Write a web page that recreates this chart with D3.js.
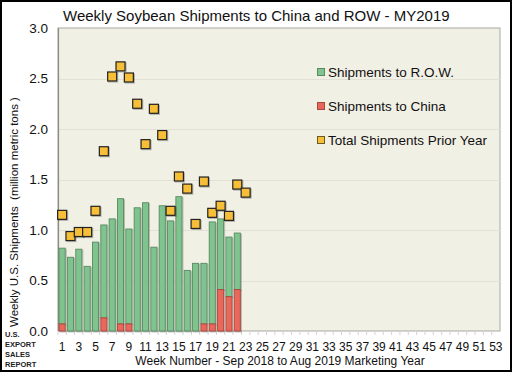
<!DOCTYPE html>
<html lang="en">
<head>
    <meta charset="UTF-8">
    <title>Weekly Soybean Shipments</title>
    <script src="https://cdnjs.cloudflare.com/ajax/libs/d3/7.8.5/d3.min.js"></script>
    <style>
        body { margin: 0; background: #fff; }
        text { font-family: Arial, "Liberation Sans", sans-serif; }
    </style>
</head>
<body>
    <script>
        // data (million metric tons)
        var weeks = d3.range(1, 54);
        var china = [0.07,0,0,0,0,0.13,0,0.07,0.07,0,0,0,0,0,0,0,0,0.07,0.07,0.41,0.34,0.41];
        var row = [0.75,0.73,0.81,0.64,0.88,0.92,1.11,1.24,0.94,1.22,1.27,0.83,1.24,1.09,1.33,0.60,0.67,0.60,1.01,0.70,0.59,0.56];
        var priorYear = [1.15,0.94,0.98,0.98,1.19,1.78,2.52,2.62,2.51,2.25,1.85,2.20,1.94,1.19,1.53,1.41,1.06,1.48,1.17,1.24,1.14,1.45,1.37];
        var yTicks = [0, 0.5, 1.0, 1.5, 2.0, 2.5, 3.0];
        var legendLabels = ["Shipments to R.O.W.", "Shipments to China", "Total Shipments Prior Year"];

        var W = 512, H = 372;
        var svg = d3.select("body").append("svg")
            .attr("width", W)
            .attr("height", H);

        // drop shadow for marks
        var defs = svg.append("defs");
        var f = defs.append("filter").attr("id", "sh")
            .attr("x", "-50%").attr("y", "-50%").attr("width", "200%").attr("height", "200%");
        f.append("feDropShadow").attr("dx", 1).attr("dy", 1)
            .attr("stdDeviation", 0.6).attr("flood-color", "#000").attr("flood-opacity", 0.25);

        // outer frame
        svg.append("rect")
            .attr("x", 1).attr("y", 1).attr("width", W - 2).attr("height", H - 2)
            .attr("fill", "#fff").attr("stroke", "#000").attr("stroke-width", 2);

        var plotL = 58, plotR = 500, plotT = 28, plotB = 331;

        var x = d3.scaleBand().domain(weeks).range([plotL, plotR]).paddingInner(0.27).paddingOuter(0.13);
        var y = d3.scaleLinear().domain([0, 3]).range([plotB, plotT]);

        // plot area
        svg.append("rect")
            .attr("x", plotL).attr("y", plotT).attr("width", plotR - plotL).attr("height", plotB - plotT)
            .attr("fill", "#f1f0e5").attr("stroke", "#a8a8a2").attr("stroke-width", 1);

        // gridlines
        svg.append("g").selectAll("line")
            .data(yTicks.slice(1, -1))
            .enter().append("line")
            .attr("x1", plotL).attr("x2", plotR)
            .attr("y1", function(d) { return Math.round(y(d)) + 0.5; })
            .attr("y2", function(d) { return Math.round(y(d)) + 0.5; })
            .attr("stroke", "#e2e1d6").attr("stroke-width", 1);

        // left axis line
        svg.append("line")
            .attr("x1", plotL + 0.5).attr("x2", plotL + 0.5).attr("y1", plotT).attr("y2", plotB)
            .attr("stroke", "#8c8c88").attr("stroke-width", 1.2);

        // y axis labels
        var yAxis = d3.axisLeft(y).tickValues(yTicks).tickFormat(d3.format(".1f")).tickSize(0).tickPadding(10);
        var gy = svg.append("g").attr("transform", "translate(" + plotL + ",0)").call(yAxis);
        gy.select(".domain").remove();
        gy.selectAll("text").style("font-size", "13.5px").attr("fill", "#111")
            .attr("font-family", "Arial, 'Liberation Sans', sans-serif");

        // x axis
        var xAxis = d3.axisBottom(x)
            .tickFormat(function(d) { return d % 2 === 1 ? d : ""; })
            .tickSize(0).tickPadding(11);
        var gx = svg.append("g").attr("transform", "translate(0," + plotB + ")").call(xAxis);
        gx.select(".domain").remove();
        gx.selectAll("text").style("font-size", "12px").attr("fill", "#111")
            .attr("font-family", "Arial, 'Liberation Sans', sans-serif");

        // small tick marks between categories
        svg.append("g").selectAll("line")
            .data(weeks)
            .enter().append("line")
            .attr("x1", function(d) { return x(d) - x.step() * x.paddingInner() / 2; })
            .attr("x2", function(d) { return x(d) - x.step() * x.paddingInner() / 2; })
            .attr("y1", plotB + 1).attr("y2", plotB + 4)
            .attr("stroke", "#d4d4d0").attr("stroke-width", 1);

        // stacked bars
        var bars = svg.append("g");
        bars.selectAll("rect.row")
            .data(row)
            .enter().append("rect")
            .attr("class", "row")
            .attr("x", function(d, i) { return x(weeks[i]); })
            .attr("width", x.bandwidth())
            .attr("y", function(d, i) { return y(d + china[i]); })
            .attr("height", function(d, i) { return y(china[i]) - y(d + china[i]); })
            .attr("fill", "#7fc48f").attr("stroke", "#5b8a62").attr("stroke-width", 0.9)
            .attr("filter", "url(#sh)");
        bars.selectAll("rect.china")
            .data(china)
            .enter().append("rect")
            .attr("class", "china")
            .attr("x", function(d, i) { return x(weeks[i]); })
            .attr("width", x.bandwidth())
            .attr("y", function(d) { return y(d); })
            .attr("height", function(d) { return y(0) - y(d); })
            .attr("fill", "#e9675a").attr("stroke", "#a9483f").attr("stroke-width", 0.9)
            .attr("display", function(d) { return d > 0 ? null : "none"; })
            .attr("filter", "url(#sh)");

        // prior year markers
        var sq = 9;
        svg.append("g").selectAll("rect")
            .data(priorYear)
            .enter().append("rect")
            .attr("x", function(d, i) { return x(weeks[i]) + x.bandwidth() / 2 - sq / 2; })
            .attr("y", function(d) { return y(d) - sq / 2; })
            .attr("width", sq).attr("height", sq)
            .attr("fill", "#f7bf38").attr("stroke", "#222").attr("stroke-width", 1.2)
            .attr("filter", "url(#sh)");

        // legend
        var legendFill = ["#7fc48f", "#e9675a", "#f7bf38"];
        var legendStroke = ["#5b8a62", "#a9483f", "#6b5a20"];
        var legendY = [72, 106, 140];
        var lg = svg.append("g").selectAll("g")
            .data(legendLabels)
            .enter().append("g")
            .attr("transform", function(d, i) { return "translate(317," + legendY[i] + ")"; });
        lg.append("rect")
            .attr("x", 0.5).attr("y", -3.5).attr("width", 7).attr("height", 7)
            .attr("fill", function(d, i) { return legendFill[i]; })
            .attr("stroke", function(d, i) { return legendStroke[i]; });
        lg.append("text")
            .attr("x", 11).attr("y", 5)
            .text(function(d) { return d; })
            .style("font-size", "13.5px").attr("fill", "#111");

        // title
        svg.append("text")
            .attr("x", 63).attr("y", 21)
            .text("Weekly Soybean Shipments to China and ROW - MY2019")
            .style("font-size", "15px").attr("fill", "#111");

        // y axis title
        svg.append("text")
            .attr("transform", "translate(18,212) rotate(-90)")
            .attr("text-anchor", "middle")
            .text("Weekly U.S. Shipments  (million metric tons )")
            .style("font-size", "11.5px").attr("fill", "#111")
            .style("white-space", "pre");

        // x axis title
        svg.append("text")
            .attr("x", 280).attr("y", 365)
            .attr("text-anchor", "middle")
            .text("Week Number - Sep 2018 to Aug 2019 Marketing Year")
            .style("font-size", "12px").attr("fill", "#111");

        // source stamp
        var stamp = ["U.S.", "EXPORT", "SALES", "REPORT"];
        svg.append("g").selectAll("text")
            .data(stamp)
            .enter().append("text")
            .attr("x", 5)
            .attr("y", function(d, i) { return 337 + i * 10; })
            .text(function(d) { return d; })
            .style("font-size", "7.5px").style("font-weight", "bold")
            .attr("font-family", "Arial, 'Liberation Sans', sans-serif")
            .attr("fill", "#222");
    </script>
</body>
</html>
